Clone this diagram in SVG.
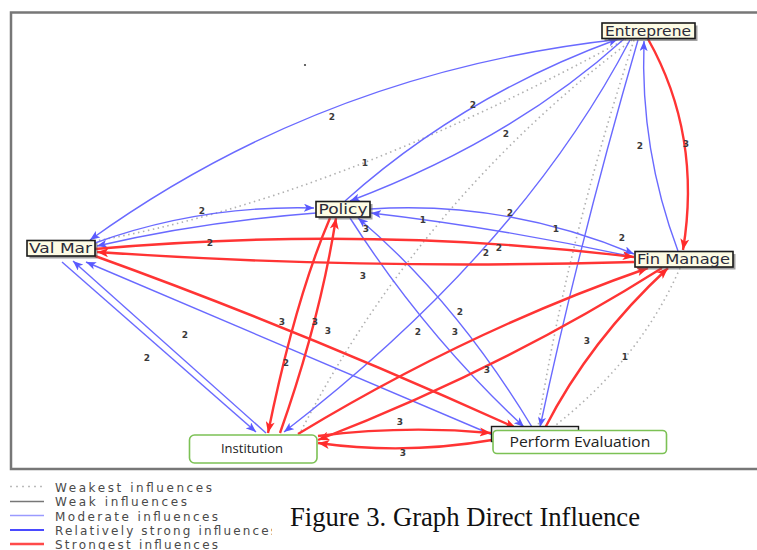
<svg xmlns="http://www.w3.org/2000/svg" width="757" height="550" viewBox="0 0 757 550">
  <style>
    .frame { fill: none; stroke: #777; stroke-width: 2.5; }
    .mod { fill: none; stroke: #6a6aff; stroke-width: 1.4; marker-end: url(#arrBlue); }
    .str { fill: none; stroke: #ff3434; stroke-width: 2.4; marker-end: url(#arrRed); }
    .weakest { fill: none; stroke: #b0b0b0; stroke-width: 1.6; stroke-dasharray: 1.5 3.5; }
    .lbox { fill: #fdfbe4; stroke: #1a1a1a; stroke-width: 1.6; }
    .lshadow { fill: #555; opacity: 0.55; }
    .ltext { font-family: "DejaVu Sans", Verdana, sans-serif; font-size: 14px; fill: #2a2a3a; }
    .gbox { fill: #ffffff; stroke: #7cc155; stroke-width: 1.6; }
    .gtext { font-family: "Open Sans", "DejaVu Sans", sans-serif; fill: #222; }
    .num { font-family: "DejaVu Sans", Verdana, sans-serif; font-size: 9px; font-weight: bold; fill: #3a3a3a; text-anchor: middle; }
    .legtext { font-family: "DejaVu Sans", Verdana, sans-serif; font-size: 12px; fill: #4a4a4a; }
    .caption { font-family: "Liberation Serif", "Times New Roman", serif; font-size: 27px; fill: #111; }
  </style>
  <defs>
    <marker id="arrBlue" viewBox="0 0 10 8" refX="10" refY="4" markerWidth="10" markerHeight="8" markerUnits="userSpaceOnUse" orient="auto">
      <path d="M0,0 L10,4 L0,8 L2.5,4 z" fill="#5a5aff"/>
    </marker>
    <marker id="arrRed" viewBox="0 0 10 8" refX="10" refY="4" markerWidth="12" markerHeight="9" markerUnits="userSpaceOnUse" orient="auto">
      <path d="M0,0 L10,4 L0,8 L2.5,4 z" fill="#ff2a2a"/>
    </marker>
    <clipPath id="legClip">
      <rect x="0" y="470" width="272" height="80"/>
    </clipPath>
  </defs>

  <rect x="0" y="0" width="757" height="550" fill="#ffffff"/>

  <!-- plot frame -->
  <path class="frame" d="M 757 12.5 H 11 V 469 H 757"/>

  <!-- connectors -->
  <g id="connectors">
    <!-- weakest influences -->
    <path class="weakest" d="M 626 39 Q 330 200 95 241"/>
    <path class="weakest" d="M 632 40 Q 420 200 300 433"/>
    <path class="weakest" d="M 634 40 Q 565 250 538 427"/>
    <path class="weakest" d="M 680 268 Q 640 360 552 428"/>

    <!-- moderate influences -->
    <path class="mod" d="M 622 39 Q 325 71 90 240"/>
    <path class="mod" d="M 95 243 Q 200 205 314 208"/>
    <path class="mod" d="M 316 213 Q 200 222 97 246"/>
    <path class="mod" d="M 345 201 Q 462 96 618 39"/>
    <path class="mod" d="M 624 39 Q 512 140 350 201"/>
    <path class="mod" d="M 630 40 Q 520 250 284 432"/>
    <path class="mod" d="M 678 251 Q 640 150 644 41"/>
    <path class="mod" d="M 638 40 Q 580 240 540 427"/>
    <path class="mod" d="M 370 209 Q 505 200 634 254"/>
    <path class="mod" d="M 634 257 Q 500 228 371 213"/>
    <path class="mod" d="M 350 218 Q 425 335 524 427"/>
    <path class="mod" d="M 532 427 Q 455 300 358 218"/>
    <path class="mod" d="M 62 262 L 256 432"/>
    <path class="mod" d="M 266 433 L 73 261"/>
    <path class="mod" d="M 495 436 L 86 262"/>

    <!-- strongest influences -->
    <path class="str" d="M 648 39 Q 702 135 683 250"/>
    <path class="str" d="M 95 249 Q 370 225 634 257"/>
    <path class="str" d="M 634 262 Q 360 270 97 252"/>
    <path class="str" d="M 280 433 Q 320 320 336 218"/>
    <path class="str" d="M 330 218 Q 295 300 268 433"/>
    <path class="str" d="M 95 256 Q 300 330 516 428"/>
    <path class="str" d="M 298 434 Q 470 330 648 268"/>
    <path class="str" d="M 662 268 Q 500 370 318 440"/>
    <path class="str" d="M 318 436 Q 405 425 491 433"/>
    <path class="str" d="M 492 440 Q 405 455 318 443"/>
    <path class="str" d="M 545 428 Q 590 340 668 268"/>

    <!-- edge weights -->
    <text class="num" x="332" y="120">2</text>
    <text class="num" x="473" y="108">2</text>
    <text class="num" x="506" y="137">2</text>
    <text class="num" x="365" y="166">1</text>
    <text class="num" x="640" y="149">2</text>
    <text class="num" x="686" y="147">3</text>
    <text class="num" x="202" y="214">2</text>
    <text class="num" x="210" y="246">2</text>
    <text class="num" x="423" y="223">1</text>
    <text class="num" x="556" y="232">1</text>
    <text class="num" x="622" y="241">2</text>
    <text class="num" x="510" y="216">2</text>
    <text class="num" x="499" y="251">2</text>
    <text class="num" x="486" y="256">2</text>
    <text class="num" x="366" y="232">3</text>
    <text class="num" x="363" y="279">3</text>
    <text class="num" x="282" y="325">3</text>
    <text class="num" x="315" y="325">3</text>
    <text class="num" x="328" y="334">3</text>
    <text class="num" x="185" y="338">2</text>
    <text class="num" x="147" y="361">2</text>
    <text class="num" x="286" y="366">2</text>
    <text class="num" x="460" y="315">2</text>
    <text class="num" x="418" y="335">2</text>
    <text class="num" x="455" y="335">3</text>
    <text class="num" x="487" y="373">3</text>
    <text class="num" x="587" y="344">3</text>
    <text class="num" x="625" y="360">1</text>
    <text class="num" x="400" y="425">3</text>
    <text class="num" x="403" y="456">3</text>
  </g>

  <circle cx="305" cy="65" r="1.1" fill="#444"/>

  <!-- nodes -->
  <g id="node-entreprene">
    <rect class="lshadow" x="604.5" y="25.5" width="93" height="15.5"/>
    <rect class="lbox" x="602" y="23" width="93" height="15.5"/>
    <text class="ltext" x="605" y="35.5" textLength="86" lengthAdjust="spacingAndGlyphs">Entreprene</text>
  </g>
  <g id="node-policy">
    <rect class="lshadow" x="318.5" y="204" width="54" height="15.5"/>
    <rect class="lbox" x="316" y="201.5" width="54" height="15.5"/>
    <text class="ltext" x="318.5" y="214" textLength="49" lengthAdjust="spacingAndGlyphs">Policy</text>
  </g>
  <g id="node-valmar">
    <rect class="lshadow" x="29.5" y="243" width="68" height="15.5"/>
    <rect class="lbox" x="27" y="240.5" width="68" height="15.5"/>
    <text class="ltext" x="29" y="253" textLength="63" lengthAdjust="spacingAndGlyphs">Val Mar</text>
  </g>
  <g id="node-finmanage">
    <rect class="lshadow" x="637.5" y="254" width="98" height="15.5"/>
    <rect class="lbox" x="635" y="251.5" width="98" height="15.5"/>
    <text class="ltext" x="637" y="264" textLength="93" lengthAdjust="spacingAndGlyphs">Fin Manage</text>
  </g>
  <g id="node-institution">
    <rect class="gbox" x="189.5" y="435" width="127.5" height="28" rx="5"/>
    <text class="gtext" x="252" y="453" font-size="13" text-anchor="middle">Institution</text>
  </g>
  <g id="node-perform-evaluation">
    <rect x="491.5" y="426.5" width="87" height="15" fill="#eee" stroke="#1a1a1a" stroke-width="1.4"/>
    <rect class="gbox" x="493" y="430.5" width="173.5" height="23" rx="4"/>
    <text class="gtext" x="580" y="447" font-size="14" text-anchor="middle" textLength="141" lengthAdjust="spacingAndGlyphs">Perform Evaluation</text>
  </g>

  <!-- legend -->
  <g id="legend" clip-path="url(#legClip)">
    <line x1="10" y1="486.5" x2="44" y2="486.5" stroke="#bbb" stroke-width="1.5" stroke-dasharray="2 4"/>
    <line x1="10" y1="501.5" x2="44" y2="501.5" stroke="#777" stroke-width="1.5"/>
    <line x1="10" y1="515.5" x2="44" y2="515.5" stroke="#9a9aff" stroke-width="1.5"/>
    <line x1="10" y1="530" x2="44" y2="530" stroke="#4a4aff" stroke-width="2.2"/>
    <line x1="10" y1="544" x2="44" y2="544" stroke="#ff4a4a" stroke-width="2.6"/>
    <text class="legtext" x="55" y="492" textLength="157" lengthAdjust="spacing">Weakest influences</text>
    <text class="legtext" x="55" y="506" textLength="132" lengthAdjust="spacing">Weak influences</text>
    <text class="legtext" x="55" y="520.5" textLength="163" lengthAdjust="spacing">Moderate influences</text>
    <text class="legtext" x="55" y="535" textLength="222" lengthAdjust="spacing">Relatively strong influences</text>
    <text class="legtext" x="55" y="549" textLength="163" lengthAdjust="spacing">Strongest influences</text>
  </g>

  <text class="caption" x="290" y="526" textLength="350" lengthAdjust="spacingAndGlyphs">Figure 3. Graph Direct Influence</text>
</svg>
